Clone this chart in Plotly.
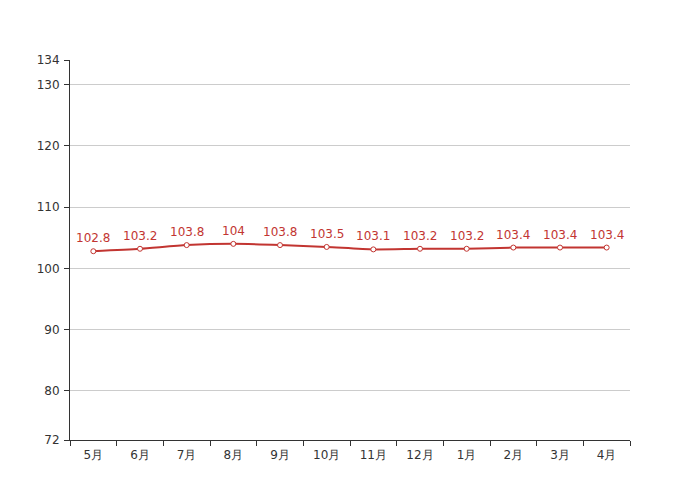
import plotly.graph_objects as go

months = ["5月", "6月", "7月", "8月", "9月", "10月", "11月", "12月", "1月", "2月", "3月", "4月"]
values = [102.8, 103.2, 103.8, 104, 103.8, 103.5, 103.1, 103.2, 103.2, 103.4, 103.4, 103.4]
y_ticks = [72, 80, 90, 100, 110, 120, 130, 134]

red = "#c23531"

fig = go.Figure(go.Scatter(
    x=months, y=values,
    mode="lines+markers",
    line=dict(color=red, width=2, shape="spline", smoothing=0.6),
    marker=dict(size=5, color="white", line=dict(color=red, width=1)),
    cliponaxis=False,
    hoverinfo="x+y",
))

for m, v in zip(months, values):
    fig.add_annotation(
        x=m, y=v, text=str(v), showarrow=False,
        yshift=13, font=dict(color=red, size=12, family="DejaVu Sans"),
    )

fig.update_layout(
    width=700, height=500,
    margin=dict(l=62, r=78, t=52, b=68),
    paper_bgcolor="white", plot_bgcolor="white",
    showlegend=False,
    font=dict(family="DejaVu Sans", size=12, color="#333"),
    xaxis=dict(
        type="category",
        showline=True, linecolor="#333", linewidth=1,
        ticks="outside", tickson="boundaries", ticklen=5, tickcolor="#333",
        showgrid=False, tickfont=dict(size=12, color="#333"),
        ticklabelstandoff=4,
        range=[-0.5, 11.5], automargin=False,
    ),
    yaxis=dict(
        range=[72, 134],
        tickvals=y_ticks,
        showline=True, linecolor="#333", linewidth=1,
        ticks="outside", ticklen=5, tickcolor="#333",
        showgrid=True, gridcolor="#ccc", gridwidth=1,
        zeroline=False, tickfont=dict(size=12, color="#333"),
        ticklabelstandoff=2,
        automargin=False,
    ),
)

fig.write_html("out.html")
